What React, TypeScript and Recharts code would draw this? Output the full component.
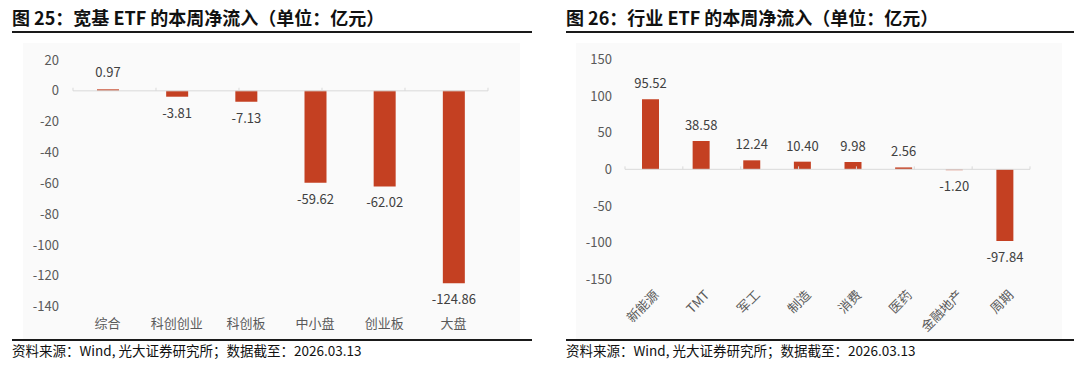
import React from "react";
import { BarChart, Bar, XAxis, YAxis, ReferenceLine, LabelList } from "recharts";

const broadCategories = ["综合", "科创创业", "科创板", "中小盘", "创业板", "大盘"];
const broadValues = [0.97, -3.81, -7.13, -59.62, -62.02, -124.86];
const broadTicks = [20, 0, -20, -40, -60, -80, -100, -120, -140];

const industryCategories = ["新能源", "TMT", "军工", "制造", "消费", "医药", "金融地产", "周期"];
const industryValues = [95.52, 38.58, 12.24, 10.4, 9.98, 2.56, -1.2, -97.84];
const industryTicks = [150, 100, 50, 0, -50, -100, -150];

const title1 = "图 25：宽基 ETF 的本周净流入（单位：亿元）";
const title2 = "图 26：行业 ETF 的本周净流入（单位：亿元）";
const sourceText = "资料来源：Wind, 光大证券研究所；数据截至：2026.03.13";

const FONT = '"Noto Sans CJK SC", "Noto Sans", sans-serif';
const BAR = "#C44022";

const makeLabel = (posOff: number, negOff: number) => (props: any) => {
  const { x, y, width, height, value } = props;
  const v = Number(value);
  const top = Math.min(y, y + height);
  const bottom = Math.max(y, y + height);
  const ty = v >= 0 ? top - posOff : bottom + negOff;
  return (
    <text x={x + width / 2} y={ty} textAnchor="middle" fontSize={13} fill="#404040" fontFamily={FONT}>
      {v.toFixed(2)}
    </text>
  );
};

const RotTick = (props: any) => {
  const { x, y, payload } = props;
  return (
    <g transform={`translate(${x + 3},${y + 2})`}>
      <text transform="rotate(-45)" textAnchor="end" fontSize={13} fill="#595959" fontFamily={FONT} dy="0.7em">
        {payload.value}
      </text>
    </g>
  );
};

function Panel({ left, width, title, children }: { left: number; width: number; title: string; children: React.ReactNode }) {
  return (
    <div style={{ position: "absolute", left, top: 0, width: 540, height: 366 }}>
      <div style={{ position: "absolute", left: 12, top: 5, fontSize: 18, fontWeight: 700, color: "#111", fontFamily: FONT, whiteSpace: "nowrap", lineHeight: "24px" }}>{title}</div>
      <div style={{ position: "absolute", left: 12, top: 31, width, height: 2, background: "#1a1a1a" }} />
      {children}
      <div style={{ position: "absolute", left: 12, top: 339, width, height: 2, background: "#1a1a1a" }} />
      <div style={{ position: "absolute", left: 12, top: 341, fontSize: 13.5, color: "#111", fontFamily: FONT, whiteSpace: "nowrap", lineHeight: "18px" }}>{sourceText}</div>
    </div>
  );
}

export default function App() {
  const d1 = broadCategories.map((c, i) => ({ name: c, value: broadValues[i] }));
  const d2 = industryCategories.map((c, i) => ({ name: c, value: industryValues[i] }));
  return (
    <div style={{ position: "absolute", left: 0, top: 0, width: 1080, height: 366, background: "#fff", overflow: "hidden" }}>
      <Panel left={0} width={520} title={title1}>
        <div style={{ position: "absolute", left: 23, top: 43, width: 497, height: 296, background: "#fafafa" }} />
        <div style={{ position: "absolute", left: 0, top: 40 }}>
          <BarChart width={540} height={300} data={d1} margin={{ top: 20, right: 52, bottom: 0, left: 0 }}>
            <XAxis dataKey="name" xAxisId={0} axisLine={false} tickLine={false} height={33.3} tickMargin={6}
              tick={{ fontSize: 13, fill: "#595959", fontFamily: FONT }} interval={0} />
            <XAxis xAxisId="b" type="number" domain={[0, broadCategories.length]} hide />
            <YAxis domain={[-140, 20]} ticks={broadTicks} width={73} axisLine={false} tickLine={false} tickMargin={8}
              tick={{ fontSize: 13, fill: "#595959", fontFamily: FONT }} interval={0} />
            <ReferenceLine y={0} stroke="#d9d9d9" strokeWidth={1} xAxisId={0} />
            {broadCategories.map((_, i) => (
              <ReferenceLine key={i} xAxisId="b" segment={[{ x: i, y: 0 }, { x: i, y: 2 }]} stroke="#d9d9d9" />
            ))}
            <ReferenceLine xAxisId="b" segment={[{ x: broadCategories.length, y: 0 }, { x: broadCategories.length, y: 2 }]} stroke="#d9d9d9" />
            <Bar dataKey="value" fill={BAR} barSize={22} isAnimationActive={false} xAxisId={0}>
              <LabelList dataKey="value" content={makeLabel(12, 21)} />
            </Bar>
          </BarChart>
        </div>
      </Panel>
      <Panel left={554} width={508} title={title2}>
        <div style={{ position: "absolute", left: 22, top: 43, width: 486, height: 296, background: "#fafafa" }} />
        <div style={{ position: "absolute", left: -14, top: 40 }}>
          <BarChart width={540} height={300} data={d2} margin={{ top: 19.3, right: 50, bottom: 0, left: 0 }}>
            <XAxis dataKey="name" xAxisId={0} axisLine={false} tickLine={false} height={60.7}
              tick={<RotTick />} interval={0} />
            <XAxis xAxisId="b" type="number" domain={[0, industryCategories.length]} hide />
            <YAxis domain={[-150, 150]} ticks={industryTicks} width={85} axisLine={false} tickLine={false} tickMargin={7}
              tick={{ fontSize: 13, fill: "#595959", fontFamily: FONT }} interval={0} />
            <ReferenceLine y={0} stroke="#d9d9d9" strokeWidth={1} xAxisId={0} />
            {industryCategories.map((_, i) => (
              <ReferenceLine key={i} xAxisId="b" segment={[{ x: i, y: 0 }, { x: i, y: 4 }]} stroke="#d9d9d9" />
            ))}
            <ReferenceLine xAxisId="b" segment={[{ x: industryCategories.length, y: 0 }, { x: industryCategories.length, y: 4 }]} stroke="#d9d9d9" />
            <Bar dataKey="value" fill={BAR} barSize={17} isAnimationActive={false} xAxisId={0}>
              <LabelList dataKey="value" content={makeLabel(11, 21)} />
            </Bar>
          </BarChart>
        </div>
      </Panel>
    </div>
  );
}
